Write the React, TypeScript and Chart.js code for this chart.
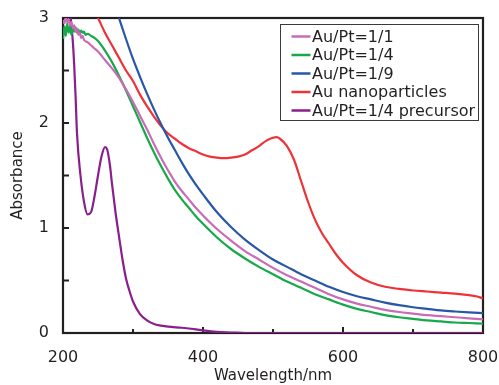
import React, { useEffect, useRef } from 'react';
import { Chart, registerables } from 'chart.js';

Chart.register(...registerables);

const FONT = "'DejaVu Sans', 'Liberation Sans', Arial, sans-serif";
const INK = '#231f20';

const seriesLabels = ['Au/Pt=1/1', 'Au/Pt=1/4', 'Au/Pt=1/9', 'Au nanoparticles', 'Au/Pt=1/4 precursor'];
const seriesColors = ['#c86cb6', '#17a84a', '#2757a6', '#ee3338', '#8a1f8c'];

// Au/Pt=1/1
const wl11 = [200, 202, 204, 206, 208, 210, 212, 214, 216, 218, 220, 222, 224, 226, 228, 230, 235, 240, 245, 250, 260, 270, 280, 290, 300, 310, 320, 330, 340, 350, 360, 370, 380, 390, 400, 420, 440, 460, 480, 500, 520, 540, 560, 580, 600, 620, 640, 660, 680, 700, 720, 740, 760, 780, 800];
const abs11 = [2.98, 2.95, 3.0, 2.96, 2.99, 2.93, 2.96, 2.9, 2.93, 2.87, 2.9, 2.84, 2.86, 2.81, 2.83, 2.79, 2.77, 2.74, 2.71, 2.68, 2.6, 2.52, 2.43, 2.32, 2.2, 2.07, 1.94, 1.8, 1.67, 1.55, 1.44, 1.35, 1.27, 1.19, 1.12, 0.99, 0.88, 0.78, 0.7, 0.62, 0.55, 0.49, 0.43, 0.37, 0.32, 0.28, 0.25, 0.22, 0.2, 0.185, 0.17, 0.16, 0.15, 0.14, 0.13];

// Au/Pt=1/4
const wl14 = [200, 202, 204, 206, 208, 210, 212, 214, 216, 218, 220, 222, 224, 226, 228, 230, 232, 235, 240, 245, 250, 260, 270, 280, 290, 300, 310, 320, 330, 340, 350, 360, 370, 380, 390, 400, 420, 440, 460, 480, 500, 520, 540, 560, 580, 600, 620, 640, 660, 680, 700, 720, 740, 760, 780, 800];
const abs14 = [2.8, 2.92, 2.83, 2.95, 2.86, 2.92, 2.84, 2.9, 2.87, 2.91, 2.86, 2.89, 2.85, 2.88, 2.86, 2.87, 2.84, 2.85, 2.83, 2.81, 2.78, 2.69, 2.58, 2.45, 2.31, 2.16, 2.01, 1.86, 1.72, 1.59, 1.47, 1.36, 1.27, 1.19, 1.11, 1.04, 0.91, 0.8, 0.71, 0.63, 0.56, 0.49, 0.43, 0.37, 0.32, 0.27, 0.23, 0.2, 0.17, 0.15, 0.135, 0.12, 0.11, 0.1, 0.095, 0.09];

// Au/Pt=1/9
const wl19 = [275, 280, 290, 300, 310, 320, 330, 340, 350, 360, 370, 380, 390, 400, 420, 440, 460, 480, 500, 520, 540, 560, 580, 600, 620, 640, 660, 680, 700, 720, 740, 760, 780, 800];
const abs19 = [3.1, 3.0, 2.8, 2.61, 2.44, 2.28, 2.13, 1.99, 1.86, 1.74, 1.62, 1.51, 1.41, 1.32, 1.15, 1.01, 0.89, 0.79, 0.7, 0.63, 0.56, 0.5, 0.44, 0.39, 0.35, 0.32, 0.29, 0.265, 0.245, 0.23, 0.215, 0.205, 0.197, 0.19];

// Au nanoparticles
const wlAu = [245, 250, 260, 270, 280, 290, 300, 310, 320, 330, 340, 350, 360, 370, 380, 390, 400, 410, 420, 430, 440, 450, 460, 470, 480, 490, 500, 505, 510, 520, 530, 540, 550, 560, 570, 580, 590, 600, 620, 640, 660, 680, 700, 720, 740, 760, 780, 790, 800];
const absAu = [3.06, 3.0, 2.86, 2.74, 2.62, 2.5, 2.4, 2.27, 2.16, 2.06, 1.97, 1.9, 1.85, 1.8, 1.76, 1.73, 1.7, 1.68, 1.67, 1.665, 1.67, 1.68, 1.7, 1.74, 1.78, 1.83, 1.86, 1.865, 1.85, 1.78, 1.65, 1.45, 1.25, 1.08, 0.95, 0.85, 0.75, 0.67, 0.55, 0.48, 0.44, 0.42, 0.405, 0.395, 0.385, 0.375, 0.36, 0.35, 0.33];

// Au/Pt=1/4 precursor
const wlPre = [200, 205, 209, 211, 214, 216, 218, 220, 225, 230, 235, 240, 245, 250, 255, 260, 263, 267, 270, 275, 280, 285, 290, 295, 300, 310, 320, 330, 340, 350, 370, 390, 400, 420, 440, 460, 500, 600, 700, 800];
const absPre = [3.3, 3.3, 3.15, 3.0, 2.78, 2.55, 2.25, 1.9, 1.5, 1.25, 1.13, 1.15, 1.3, 1.5, 1.68, 1.77, 1.75, 1.6, 1.42, 1.15, 0.92, 0.7, 0.52, 0.4, 0.3, 0.18, 0.12, 0.085, 0.07, 0.06, 0.05, 0.035, 0.025, 0.01, 0.005, 0, 0, 0, 0, 0];

const xTickValues = [200, 400, 600, 800];
const yTickValues = [0, 1, 2, 3];
const xMajorMarks = [400, 600];
const xMinorMarks = [300, 500, 700];
const yMarks = [0.5, 1, 1.5, 2, 2.5];

const seriesX = [wl11, wl14, wl19, wlAu, wlPre];
const seriesY = [abs11, abs14, abs19, absAu, absPre];

const framePlugin = {
  id: 'framePlugin',
  beforeDatasetsDraw(chart: any) {
    const { ctx, chartArea } = chart;
    const { left, right, top, bottom } = chartArea;
    const xs = chart.scales.x;
    const ys = chart.scales.y;
    ctx.save();
    ctx.strokeStyle = INK;
    ctx.lineWidth = 2.2;
    ctx.strokeRect(left, top, right - left, bottom - top);
    ctx.lineWidth = 2;
    ctx.beginPath();
    for (const v of xMajorMarks) {
      const p = xs.getPixelForValue(v);
      ctx.moveTo(p, bottom);
      ctx.lineTo(p, bottom - 6);
    }
    for (const v of xMinorMarks) {
      const p = xs.getPixelForValue(v);
      ctx.moveTo(p, bottom);
      ctx.lineTo(p, bottom - 4);
    }
    for (const v of yMarks) {
      const p = ys.getPixelForValue(v);
      ctx.moveTo(left, p);
      ctx.lineTo(left + 6, p);
    }
    ctx.stroke();
    ctx.restore();
  },
  afterDatasetsDraw(chart: any) {
    const { ctx, chartArea } = chart;
    const bx = chartArea.right - 203;
    const by = chartArea.top + 6;
    const bw = 198;
    const bh = 96;
    ctx.save();
    ctx.fillStyle = '#ffffff';
    ctx.fillRect(bx, by, bw, bh);
    ctx.strokeStyle = '#3a3a3a';
    ctx.lineWidth = 1;
    ctx.strokeRect(bx + 0.5, by + 0.5, bw, bh);
    ctx.font = `16px ${FONT}`;
    ctx.textBaseline = 'middle';
    ctx.textAlign = 'left';
    chart.data.datasets.forEach((ds: any, i: number) => {
      const cy = by + 12.5 + i * 18.5;
      ctx.strokeStyle = ds.borderColor;
      ctx.lineWidth = 2.5;
      ctx.beginPath();
      ctx.moveTo(bx + 11.5, cy);
      ctx.lineTo(bx + 30.5, cy);
      ctx.stroke();
      ctx.fillStyle = INK;
      ctx.fillText(ds.label, bx + 32, cy + 1);
    });
    ctx.restore();
  },
};

export default function App() {
  const ref = useRef<HTMLCanvasElement>(null);
  useEffect(() => {
    const datasets = seriesLabels.map((label, i) => ({
      label,
      data: seriesX[i].map((x, j) => ({ x, y: seriesY[i][j] })),
      borderColor: seriesColors[i],
      backgroundColor: seriesColors[i],
      borderWidth: 2.2,
      pointRadius: 0,
      fill: false,
      cubicInterpolationMode: 'monotone' as const,
    }));
    const chart = new Chart(ref.current as HTMLCanvasElement, {
      type: 'line',
      data: { datasets },
      plugins: [framePlugin],
      options: {
        responsive: false,
        animation: false,
        devicePixelRatio: 1,
        layout: { padding: { top: 18, right: 16, left: 0, bottom: 0 } },
        plugins: { legend: { display: false }, tooltip: { enabled: false } },
        scales: {
          x: {
            type: 'linear',
            min: 200,
            max: 800,
            afterFit: (s: any) => { s.height = 52; s.paddingLeft = 0; s.paddingRight = 0; },
            afterBuildTicks: (s: any) => { s.ticks = xTickValues.map((v) => ({ value: v })); },
            grid: { display: false, drawTicks: false },
            border: { display: false },
            ticks: { padding: 15, color: INK, font: { family: FONT, size: 16 }, maxRotation: 0, autoSkip: false },
            title: { display: true, text: 'Wavelength/nm', color: INK, font: { family: FONT, size: 15, lineHeight: 1 }, padding: { top: 0, bottom: 1 } },
          },
          y: {
            type: 'linear',
            min: 0,
            max: 3,
            afterFit: (s: any) => { s.width = 63; s.paddingTop = 0; s.paddingBottom = 0; },
            afterBuildTicks: (s: any) => { s.ticks = yTickValues.map((v) => ({ value: v })); },
            grid: { display: false, drawTicks: false },
            border: { display: false },
            ticks: { padding: 14, color: INK, font: { family: FONT, size: 16 } },
            title: { display: true, text: 'Absorbance', color: INK, font: { family: FONT, size: 15, lineHeight: 1 }, padding: { top: 11, bottom: 0 } },
          },
        },
      },
    });
    return () => chart.destroy();
  }, []);
  return (
    <div style={{ position: 'absolute', left: 0, top: 0, width: 499, height: 385, background: '#fff' }}>
      <canvas ref={ref} width={499} height={385} style={{ display: 'block' }} />
    </div>
  );
}
